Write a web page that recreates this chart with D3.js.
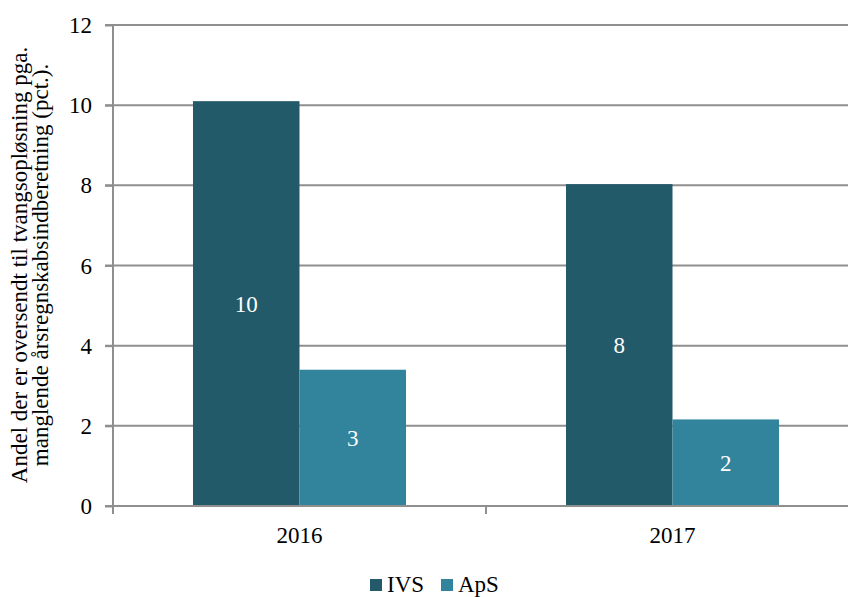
<!DOCTYPE html>
<html><head><meta charset="utf-8">
<script src="https://cdn.jsdelivr.net/npm/d3@7"></script>
<style>body{margin:0;background:#fff}svg{display:block}text{font-family:"Liberation Serif","Times New Roman",serif}</style>
</head><body><svg id="c" width="848" height="597"></svg>
<script>
const categories = ["2016", "2017"];
const seriesNames = ["IVS", "ApS"];
const ivsValues = [10.1, 8.03];
const apsValues = [3.4, 2.16];
const dataLabels = [["10", "3"], ["8", "2"]];
const yTicks = [0, 2, 4, 6, 8, 10, 12];
const colors = ["#235A69", "#31849B"];
const yLabelLines = ["Andel der er oversendt til tvangsopløsning pga.", "manglende årsregnskabsindberetning (pct.)."];

(function () {
const svg = d3.select("#c");
const pLeft = 113, pRight = 859, pTop = 25, pBottom = 506;
const fs = 23;
const x0 = d3.scaleBand().domain(categories).range([pLeft, pRight]).padding(0);
const x1 = d3.scaleBand().domain(seriesNames).range([0, x0.bandwidth()]).paddingInner(0).paddingOuter(0.751);
const y = d3.scaleLinear().domain([0, 12]).range([pBottom, pTop]);
const grey = "#8f8f8f";

// gridlines
svg.append("g").selectAll("line").data(yTicks.filter(d => d > 0)).join("line")
  .attr("x1", pLeft - 8).attr("x2", 848).attr("y1", d => y(d)).attr("y2", d => y(d))
  .attr("stroke", grey).attr("stroke-width", 2);

// bars
const series = [ivsValues, apsValues];
const g = svg.append("g");
categories.forEach((c, i) => {
  seriesNames.forEach((s, j) => {
    const v = series[j][i];
    const bx = x0(c) + x1(s);
    g.append("rect").attr("x", bx).attr("y", y(v)).attr("width", x1.bandwidth()).attr("height", y(0) - y(v)).attr("fill", colors[j]);
    g.append("text").attr("x", bx + x1.bandwidth() / 2).attr("y", (y(v) + y(0)) / 2 + 8)
      .attr("text-anchor", "middle").attr("fill", "#fff").attr("font-size", fs).text(dataLabels[i][j]);
  });
});

// y axis
const yAxis = svg.append("g").attr("transform", `translate(${pLeft},0)`)
  .call(d3.axisLeft(y).tickValues(yTicks).tickSize(8).tickPadding(13).tickFormat(d3.format("d")));
yAxis.attr("font-family", null).attr("font-size", null);
yAxis.select(".domain").attr("stroke", grey).attr("stroke-width", 2).attr("d", `M0,${pTop}V${pBottom + 8}`);
yAxis.selectAll(".tick line").attr("stroke", grey).attr("stroke-width", 2);
yAxis.selectAll(".tick text").attr("font-size", fs).attr("fill", "#000").attr("dy", "0.33em");

// x axis
const xAxisG = svg.append("g").attr("transform", `translate(0,${pBottom})`);
xAxisG.append("line").attr("x1", pLeft - 8).attr("x2", 848).attr("y1", 0).attr("y2", 0).attr("stroke", grey).attr("stroke-width", 2);
const bounds = [pLeft, x0(categories[1]), pRight];
xAxisG.selectAll("line.t").data(bounds).join("line").attr("class", "t")
  .attr("x1", d => d).attr("x2", d => d).attr("y1", 0).attr("y2", 8).attr("stroke", grey).attr("stroke-width", 2);
xAxisG.selectAll("text").data(categories).join("text")
  .attr("x", d => x0(d) + x0.bandwidth() / 2).attr("y", 37).attr("text-anchor", "middle")
  .attr("font-size", fs).text(d => d);

// y label
const yl = svg.append("text").attr("transform", "rotate(-90)").attr("text-anchor", "middle").attr("font-size", fs);
yLabelLines.forEach((t, i) => yl.append("tspan").attr("x", -265).attr("y", 27 + i * 21).text(t));

// legend
const lg = svg.append("g");
const lx = [370, 441];
seriesNames.forEach((s, i) => {
  lg.append("rect").attr("x", lx[i]).attr("y", 579).attr("width", 12).attr("height", 12).attr("fill", colors[i]);
  lg.append("text").attr("x", lx[i] + 17).attr("y", 592).attr("font-size", fs).text(s);
});
})();
</script></body></html>
